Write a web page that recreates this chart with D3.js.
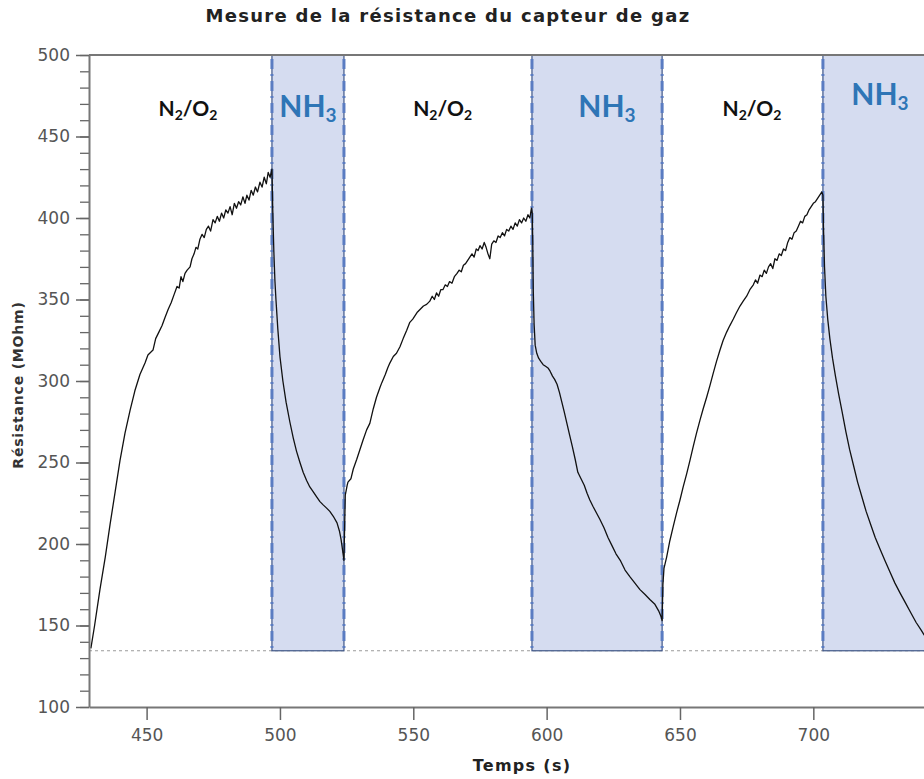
<!DOCTYPE html>
<html>
<head>
<meta charset="utf-8">
<script src="https://cdn.jsdelivr.net/npm/d3@7/dist/d3.min.js"></script>
<style>
body { margin: 0; background: #fff; }
</style>
</head>
<body>
<script>
var timeS = [
  429.1, 430.5, 432.5, 434.5, 436.3, 438.2, 440.0, 441.9, 443.8, 445.6, 447.5, 449.4, 450.5, 452.4,
  453.4, 454.6, 455.8, 456.9, 458.1, 459.2, 460.3, 461.4, 462.2, 462.9, 463.6, 464.4, 465.2, 466.3,
  467.0, 467.8, 468.5, 469.2, 470.0, 470.8, 471.6, 472.4, 473.2, 474.0, 474.9, 475.7, 476.5, 477.3,
  478.1, 478.9, 479.7, 480.5, 481.3, 482.1, 482.9, 483.7, 484.5, 485.3, 486.1, 486.9, 487.6, 488.4,
  489.2, 490.0, 490.8, 491.6, 492.5, 493.3, 494.1, 494.9, 495.6, 496.3, 497.0,
  497.3, 497.7, 498.1, 498.5, 499.2, 500.0, 501.1, 502.3, 503.7, 505.0, 506.2, 507.5, 508.7, 510.0,
  511.2, 512.5, 513.7, 515.0, 516.2, 517.5, 518.7, 520.0, 521.4, 522.3, 522.9, 523.5, 524.0,
  524.5, 525.2,
  525.5, 526.6, 527.5, 528.8, 530.0, 531.2, 532.5, 533.7, 535.0, 536.2, 537.5, 538.2, 539.5, 540.4,
  541.2, 542.5, 543.7, 545.0, 546.2, 547.5, 548.7, 549.8, 550.6, 551.4, 552.6, 553.8, 555.0, 556.2,
  557.1, 557.9, 558.7, 559.5, 560.3, 561.1, 562.0, 562.8, 563.6, 564.5, 565.4, 566.4, 567.2, 568.0,
  568.8, 569.6, 570.4, 571.2, 572.0, 572.8, 573.6, 574.3, 575.0, 575.8, 576.6, 577.3, 578.0, 578.7,
  579.4, 580.2, 581.0, 581.8, 582.6, 583.4, 584.2, 585.0, 585.8, 586.6, 587.4, 588.2, 589.0, 589.8,
  590.6, 591.4, 592.2, 593.0, 593.7, 594.3, 594.6,
  594.8, 595.0, 595.3, 595.7, 596.3, 597.0, 597.8, 598.7, 599.6, 600.5, 601.3, 602.2, 603.0, 603.9,
  604.8, 605.7, 606.6, 607.6, 608.6, 609.6, 610.7, 611.7, 612.9, 614.1, 615.2, 616.2, 617.4, 618.7,
  620.0, 621.5, 623.0, 624.5, 626.0, 627.6, 629.4, 631.2, 633.1, 635.0, 636.9, 638.7, 640.6, 642.0,
  643.0, 643.3, 643.6,
  644.0, 645.0, 646.2, 647.5, 648.7, 650.0, 651.2, 652.5, 653.7, 655.0, 656.2, 657.5, 658.7, 660.0,
  661.2, 662.5, 663.7, 665.0, 666.2, 667.5, 668.7, 670.0, 671.2, 672.5, 673.7, 675.0, 676.2, 677.5,
  678.3, 679.1, 680.0, 680.8, 681.6, 682.4, 683.2, 684.0, 684.8, 685.6, 686.4, 687.2, 688.0, 688.8,
  689.6, 690.4, 691.2, 692.0, 692.8, 693.6, 694.4, 695.2, 696.0, 696.8, 697.6, 698.4, 699.2, 700.0,
  700.8, 701.6, 702.4, 703.2, 703.6,
  703.8, 704.2, 704.7, 705.4, 706.2, 707.2, 708.3, 709.5, 710.8, 712.2, 713.6, 715.1, 716.6, 718.2,
  719.8, 721.5, 723.2, 725.0, 726.8, 728.7, 730.6, 732.5, 734.5, 736.5, 738.5, 740.5, 741.6
];
var resistance = [
  136, 150, 172, 192, 212, 232, 251, 268, 282, 294, 304, 311, 316, 319,
  326, 330, 334, 339, 344, 348, 353, 358, 357, 364, 361, 366, 368, 370,
  375, 378, 382, 381, 387, 390, 388, 393, 395, 392, 399, 397, 401, 398,
  403, 400, 405, 403, 407, 402, 409, 406, 410, 408, 413, 409, 414, 411,
  417, 414, 419, 416, 422, 419, 425, 421, 428, 425, 430,
  405, 380, 362, 350, 332, 315, 300, 287, 275, 265, 257, 250, 244, 239,
  235, 232, 229, 226, 224, 222, 220, 217, 213, 208, 203, 196, 190,
  230, 236,
  238, 240, 246, 252, 258, 264, 270, 274, 283, 290, 296, 299, 304, 308,
  311, 315, 317, 321, 326, 331, 336, 338, 340, 342, 344, 346, 347, 349,
  352, 350, 354, 352, 356, 356, 359, 358, 361, 360, 364, 366, 368, 367,
  371, 372, 374, 376, 378, 376, 381, 380, 383, 381, 385, 382, 378, 375,
  384, 386, 385, 389, 388, 391, 389, 393, 392, 395, 393, 397, 395, 399,
  397, 400, 398, 402, 400, 406, 403,
  385, 355, 335, 322, 317, 314, 312, 310, 309, 308, 306, 303, 301, 298,
  293, 287, 281, 274, 267, 260, 252, 244, 240, 236, 231, 227, 223, 219,
  215, 210, 204, 199, 194, 190, 184, 180, 176, 172, 169, 166, 163, 159,
  155, 153, 175,
  185, 192, 202, 211, 219, 227, 235, 243, 251, 260, 268, 276, 283, 290,
  297, 305, 312, 319, 325, 330, 334, 338, 342, 346, 349, 352, 356, 359,
  362, 360, 365, 364, 368, 366, 370, 372, 369, 375, 374, 378, 377, 381,
  380, 385, 388, 387, 391, 392, 395, 398, 397, 401, 402, 405, 407, 409,
  410, 412, 414, 416, 414,
  395, 370, 352, 338, 326, 314, 303, 292, 281, 269, 258, 248, 238, 229,
  220, 212, 204, 197, 190, 183, 176, 170, 164, 158, 152, 147, 144
];

// NH3 exposure windows (s)
var nh3Start = [497, 594.5, 703.6];
var nh3End = [524, 643.3, 790];
var baselineValue = 134.5;

var xTickValues = [450, 500, 550, 600, 650, 700];
var yTickValues = [100, 150, 200, 250, 300, 350, 400, 450, 500];

// where the gas names sit, in seconds
var n2LabelTimes = [465.5, 561, 677];
var nh3LabelTimes = [510.5, 622.6, 725];

var chart = {
  width: 924,
  height: 779,
  left: 89,
  right: 924,
  top: 55,
  bottom: 707
};

var x = d3.scaleLinear().domain([428.4, 741.5]).range([chart.left, chart.right]);
var y = d3.scaleLinear().domain([100, 500]).range([chart.bottom, chart.top]);

var svg = d3.select("body")
  .append("svg")
  .attr("width", chart.width)
  .attr("height", chart.height)
  .style("background-color", "white")
  .style("display", "block");

// dotted baseline under everything
svg.append("line")
  .attr("x1", chart.left)
  .attr("x2", chart.right)
  .attr("y1", y(baselineValue))
  .attr("y2", y(baselineValue))
  .attr("stroke", "#9a9a9a")
  .attr("stroke-width", 1)
  .attr("stroke-dasharray", "3,3");

// NH3 boxes
var windows = d3.range(nh3Start.length);
svg.selectAll("rect.nh3")
  .data(windows)
  .enter()
  .append("rect")
  .attr("class", "nh3")
  .attr("x", function(i) { return x(nh3Start[i]); })
  .attr("y", y(500))
  .attr("width", function(i) { return x(nh3End[i]) - x(nh3Start[i]); })
  .attr("height", y(baselineValue) - y(500))
  .attr("fill", "#d5dcf0")
  .attr("stroke", "#3e5587")
  .attr("stroke-width", 1.2);

// dashed blue edges of the boxes
var edges = [];
nh3Start.forEach(function(d) { edges.push(d); });
nh3End.forEach(function(d) { edges.push(d); });
svg.selectAll("line.edge")
  .data(edges)
  .enter()
  .append("line")
  .attr("class", "edge")
  .attr("x1", function(d) { return x(d); })
  .attr("x2", function(d) { return x(d); })
  .attr("y1", y(500) + 4)
  .attr("y2", y(baselineValue))
  .attr("stroke", "#5a7cc2")
  .attr("stroke-width", 3)
  .attr("stroke-dasharray", "10,5,2,5");

// the measured curve
var line = d3.line()
  .x(function(d, i) { return x(timeS[i]); })
  .y(function(d) { return y(d); });

svg.append("path")
  .datum(resistance)
  .attr("d", line)
  .attr("fill", "none")
  .attr("stroke", "#111")
  .attr("stroke-width", 1.3)
  .attr("stroke-linejoin", "round");

// minor ticks on y
svg.append("g")
  .attr("transform", "translate(" + chart.left + ",0)")
  .call(d3.axisLeft(y).tickValues(d3.range(100, 501, 10)).tickSize(9).tickFormat(""))
  .call(function(g) {
    g.select(".domain").remove();
    g.selectAll("line").attr("stroke", "#666").attr("stroke-width", 1.3);
  });

// y axis
svg.append("g")
  .attr("transform", "translate(" + chart.left + ",0)")
  .call(d3.axisLeft(y).tickValues(yTickValues).tickSize(13).tickSizeOuter(0).tickPadding(6))
  .call(function(g) {
    g.select(".domain").attr("stroke", "#777").attr("stroke-width", 2);
    g.selectAll("line").attr("stroke", "#666").attr("stroke-width", 1.5);
    g.selectAll("text")
      .attr("fill", "#555")
      .style("font-family", "DejaVu Sans")
      .style("font-size", "17px");
  });

// x axis
svg.append("g")
  .attr("transform", "translate(0," + chart.bottom + ")")
  .call(d3.axisBottom(x).tickValues(xTickValues).tickSize(13).tickSizeOuter(0).tickPadding(9))
  .call(function(g) {
    g.select(".domain").attr("stroke", "#777").attr("stroke-width", 2);
    g.selectAll("line").attr("stroke", "#666").attr("stroke-width", 1.5);
    g.selectAll("text")
      .attr("fill", "#555")
      .style("font-family", "DejaVu Sans")
      .style("font-size", "17px");
  });

// top frame line
svg.append("line")
  .attr("x1", chart.left)
  .attr("x2", chart.right)
  .attr("y1", y(500))
  .attr("y2", y(500))
  .attr("stroke", "#777")
  .attr("stroke-width", 2);

// gas labels
var n2 = svg.selectAll("text.n2")
  .data(n2LabelTimes)
  .enter()
  .append("text")
  .attr("class", "n2")
  .attr("x", function(d) { return x(d); })
  .attr("y", 116)
  .attr("text-anchor", "middle")
  .style("font-family", "Lato")
  .style("font-weight", "bold")
  .style("font-size", "21px")
  .attr("fill", "#111");
n2.append("tspan").text("N");
n2.append("tspan").attr("dy", 4).style("font-size", "14px").text("2");
n2.append("tspan").attr("dy", -4).text("/O");
n2.append("tspan").attr("dy", 4).style("font-size", "14px").text("2");

var nh3 = svg.selectAll("text.nh3")
  .data(nh3LabelTimes)
  .enter()
  .append("text")
  .attr("class", "nh3")
  .attr("x", function(d) { return x(d); })
  .attr("y", function(d, i) { return i == 2 ? 105 : 117; })
  .attr("text-anchor", "middle")
  .style("font-family", "Lato")
  .style("font-weight", "bold")
  .style("font-size", "30px")
  .attr("fill", "#2e75b6");
nh3.append("tspan").text("NH");
nh3.append("tspan").attr("dy", 5).style("font-size", "19px").text("3");

// titles
svg.append("text")
  .attr("x", 448)
  .attr("y", 22)
  .attr("text-anchor", "middle")
  .style("font-family", "DejaVu Sans")
  .style("font-weight", "bold")
  .style("font-size", "18px")
  .style("letter-spacing", "1.3px")
  .attr("fill", "#222")
  .text("Mesure de la résistance du capteur de gaz");

svg.append("text")
  .attr("x", 522)
  .attr("y", 771)
  .attr("text-anchor", "middle")
  .style("font-family", "DejaVu Sans")
  .style("font-weight", "bold")
  .style("font-size", "16px")
  .style("letter-spacing", "1.3px")
  .attr("fill", "#222")
  .text("Temps (s)");

svg.append("text")
  .attr("transform", "translate(23,385) rotate(-90)")
  .attr("text-anchor", "middle")
  .style("font-family", "DejaVu Sans")
  .style("font-weight", "bold")
  .style("font-size", "14px")
  .style("letter-spacing", "0.8px")
  .attr("fill", "#333")
  .text("Résistance (MOhm)");
</script>
</body>
</html>
